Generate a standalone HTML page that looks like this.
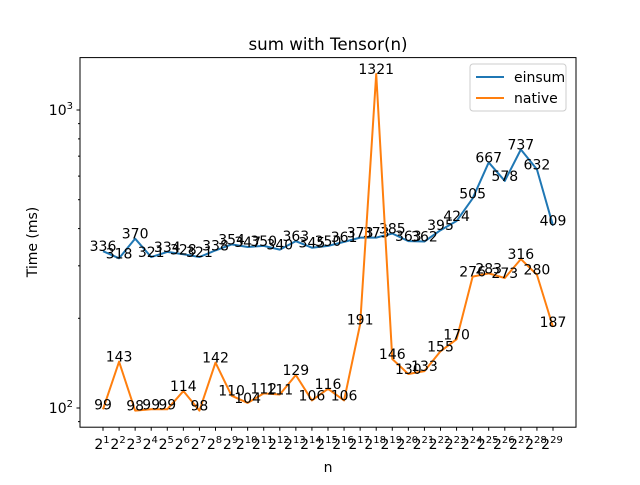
<!DOCTYPE html>
<html><head><meta charset="utf-8"><style>body{margin:0;background:#fff}svg{font-family:"DejaVu Sans","Liberation Sans",sans-serif}</style></head>
<body>
<svg id="c" width="640" height="480" xmlns="http://www.w3.org/2000/svg"></svg>
<script>
const exponents=[1,2,3,4,5,6,7,8,9,10,11,12,13,14,15,16,17,18,19,20,21,22,23,24,25,26,27,28,29];
const einsum=[336,318,370,321,334,328,321,338,354,347,350,340,363,345,350,361,373,373,385,363,362,395,424,505,667,578,737,632,409];
const native=[99,143,98,99,99,114,98,142,110,104,112,111,129,106,116,106,191,1321,146,130,133,155,170,276,283,273,316,280,187];
const yTicks=[100,1000];
const NS="http://www.w3.org/2000/svg";
const svg=document.getElementById('c');
const L=80,R=576,T=57.6,B=427.2;
const x0=103,dx=(553-103)/28;
function xs(i){return x0+i*dx;}
function ys(v){return 408-(Math.log10(v)-2)*298;}
function el(tag,attrs,parent){const e=document.createElementNS(NS,tag);for(const k in attrs)e.setAttribute(k,attrs[k]);(parent||svg).appendChild(e);return e;}
const frame=el('rect',{x:L,y:T,width:R-L,height:B-T,fill:'none',stroke:'#000','stroke-width':1});


yTicks.forEach(v=>{const y=ys(v);
const t=el('line',{x1:L-3.5,x2:L,y1:y,y2:y,stroke:'#000'});


const tx=el('text',{x:L-7,y:y+5,'text-anchor':'end','font-size':14});


tx.innerHTML='10<tspan dy="-6" font-size="10">'+Math.round(Math.log10(v))+'</tspan>';});
[90,200,300,400,500,600,700,800,900].forEach(v=>{const y=ys(v);if(y>B||y<T)return;
const t=el('line',{x1:L-2,x2:L,y1:y,y2:y,stroke:'#000'});

});
exponents.forEach((e,i)=>{const x=xs(i);
const t=el('line',{x1:x,x2:x,y1:B,y2:B+3.5,stroke:'#000'});


const tx=el('text',{x:x-1,y:B+22,'text-anchor':'middle','font-size':14});


tx.innerHTML='2<tspan dy="-6" font-size="10">'+e+'</tspan>';});
function series(vals,color,name){
const p=el('polyline',{points:vals.map((v,i)=>xs(i)+','+ys(v)).join(' '),fill:'none',stroke:color,'stroke-width':2,'stroke-linejoin':'round'});


vals.forEach((v,i)=>{const t=el('text',{x:xs(i),y:ys(v),'text-anchor':'middle','font-size':14,fill:'#000'});


t.textContent=v;});}
series(einsum,'#1f77b4','einsum');
series(native,'#ff7f0e','native');
const title=el('text',{x:328,y:50,'text-anchor':'middle','font-size':16.7});


title.textContent='sum with Tensor(n)';
const xl=el('text',{x:328,y:472,'text-anchor':'middle','font-size':14});


xl.textContent='n';
const yl=el('text',{x:37,y:242,'text-anchor':'middle','font-size':14,transform:'rotate(-90 37 242)'});


yl.textContent='Time (ms)';
const lg=el('rect',{x:470,y:64,width:96,height:47,fill:'#fff',stroke:'#ccc',rx:3});


[['einsum','#1f77b4',77],['native','#ff7f0e',98]].forEach(([n,c,y])=>{
const l=el('line',{x1:476,x2:504,y1:y,y2:y,stroke:c,'stroke-width':2});


const t=el('text',{x:514,y:y+5,'font-size':14});


t.textContent=n;});
</script>
</body></html>
